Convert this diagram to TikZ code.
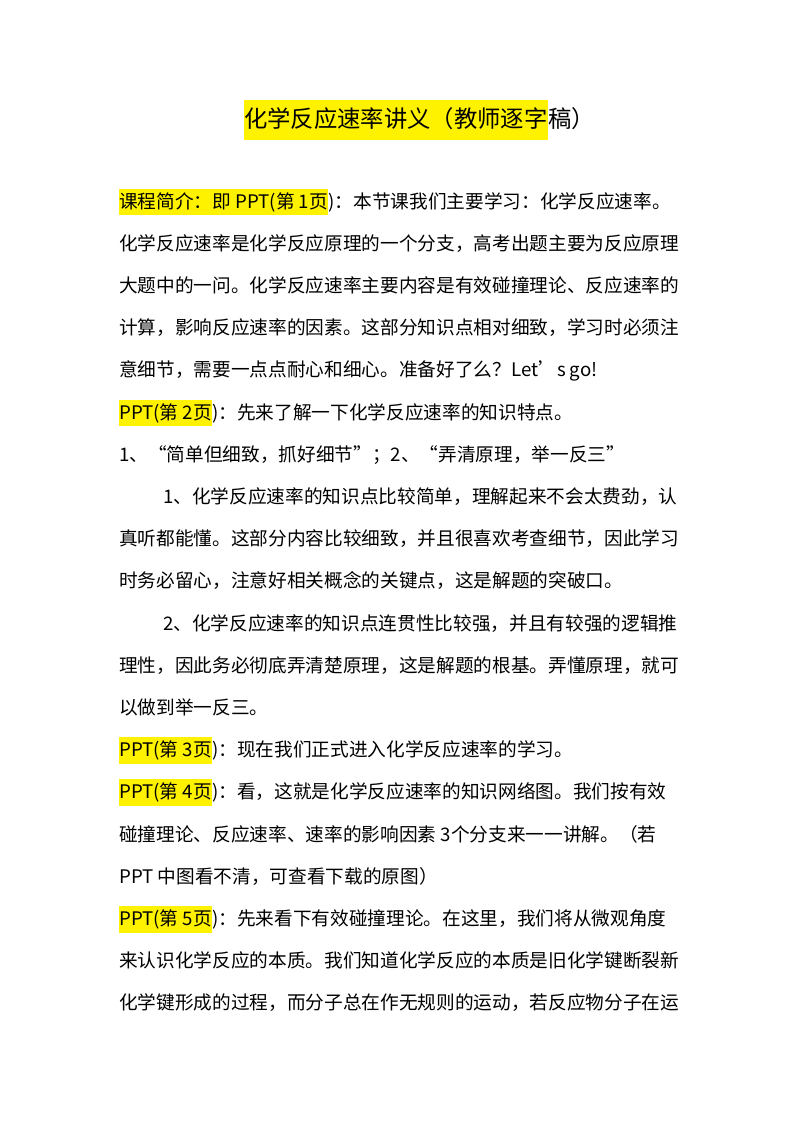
\documentclass[tikz,border=0pt]{standalone}
\usepackage{fontspec}
\setmainfont{Noto Sans CJK SC}
\begin{document}
\begin{tikzpicture}[x=0.75pt,y=-0.75pt,
  txt/.style={inner sep=0pt,anchor=west,font=\fontsize{14}{14}\selectfont,text height=11.5pt,text depth=2.5pt},
  hl/.style={txt,fill=yellow,inner ysep=3pt},
  ttl/.style={inner sep=0pt,anchor=west,font=\fontsize{17.5}{18}\selectfont,text height=14pt,text depth=3.5pt}]
\useasboundingbox[fill=white] (0,0) rectangle (800,1132);
\node[ttl,fill=yellow,inner ysep=6pt] (th) at (244,120) {化学反应速率讲义（教师逐字};
\node[ttl] (tt) at (th.east) {稿）};
\def\L#1{202+42.2*#1}
\node[hl] (h1) at (119,{\L0}) {课程简介：即 PPT(第 1页};
\node[txt] (a1) at (h1.east) {)：本节课我们主要学习：化学反应速率。};
\node[txt] (a2) at (119,{\L1}) {化学反应速率是化学反应原理的一个分支，高考出题主要为反应原理};
\node[txt] (a3) at (119,{\L2}) {大题中的一问。化学反应速率主要内容是有效碰撞理论、反应速率的};
\node[txt] (a4) at (119,{\L3}) {计算，影响反应速率的因素。这部分知识点相对细致，学习时必须注};
\node[txt] (a5) at (119,{\L4}) {意细节，需要一点点耐心和细心。准备好了么？Let’s go!};
\node[hl] (h2) at (119,{\L5}) {PPT(第 2页};
\node[txt] (a6) at (h2.east) {)：先来了解一下化学反应速率的知识特点。};
\node[txt] (a7) at (119,{\L6}) {1、“简单但细致，抓好细节”；2、“弄清原理，举一反三”};
\node[txt] (a8) at (163,{\L7}) {1、化学反应速率的知识点比较简单，理解起来不会太费劲，认};
\node[txt] (a9) at (119,{\L8}) {真听都能懂。这部分内容比较细致，并且很喜欢考查细节，因此学习};
\node[txt] (a10) at (119,{\L9}) {时务必留心，注意好相关概念的关键点，这是解题的突破口。};
\node[txt] (a11) at (163,{\L{10}}) {2、化学反应速率的知识点连贯性比较强，并且有较强的逻辑推};
\node[txt] (a12) at (119,{\L{11}}) {理性，因此务必彻底弄清楚原理，这是解题的根基。弄懂原理，就可};
\node[txt] (a13) at (119,{\L{12}}) {以做到举一反三。};
\node[hl] (h3) at (119,{\L{13}}) {PPT(第 3页};
\node[txt] (a14) at (h3.east) {)：现在我们正式进入化学反应速率的学习。};
\node[hl] (h4) at (119,{\L{14}}) {PPT(第 4页};
\node[txt] (a15) at (h4.east) {)：看，这就是化学反应速率的知识网络图。我们按有效};
\node[txt] (a16) at (119,{\L{15}}) {碰撞理论、反应速率、速率的影响因素 3个分支来一一讲解。（若};
\node[txt] (a17) at (119,{\L{16}}) {PPT 中图看不清，可查看下载的原图）};
\node[hl] (h5) at (119,{\L{17}}) {PPT(第 5页};
\node[txt] (a18) at (h5.east) {)：先来看下有效碰撞理论。在这里，我们将从微观角度};
\node[txt] (a19) at (119,{\L{18}}) {来认识化学反应的本质。我们知道化学反应的本质是旧化学键断裂新};
\node[txt] (a20) at (119,{\L{19}}) {化学键形成的过程，而分子总在作无规则的运动，若反应物分子在运};
\end{tikzpicture}
\end{document}
